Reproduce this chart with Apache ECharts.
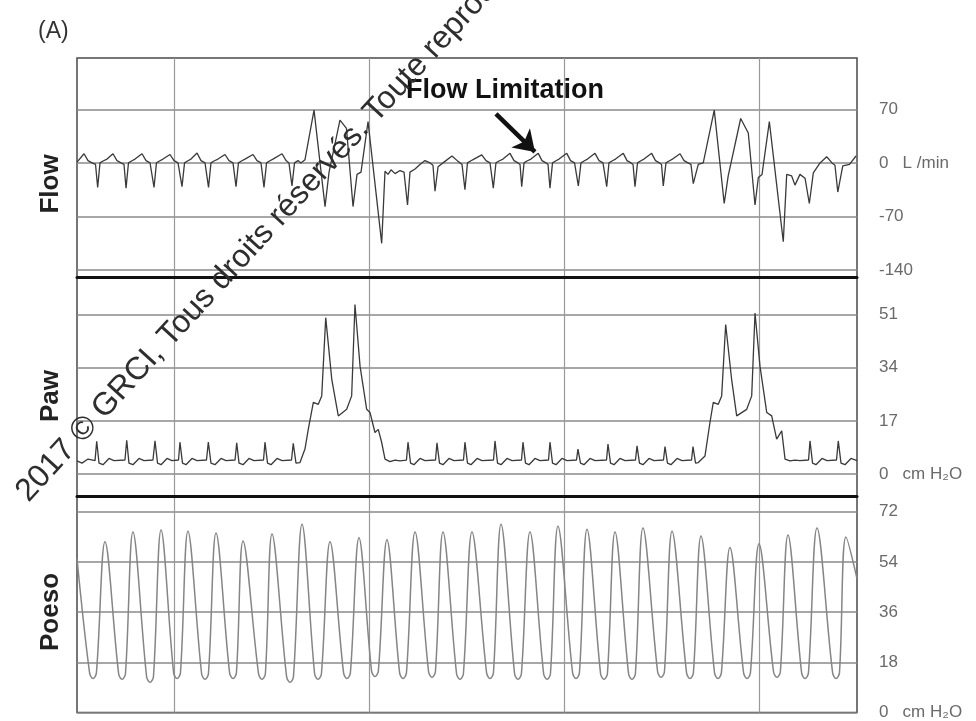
<!DOCTYPE html>
<html>
<head>
<meta charset="utf-8">
<script src="https://cdn.jsdelivr.net/npm/echarts@6/dist/echarts.min.js"></script>
<style>
html, body { margin: 0; padding: 0; background: #fff; }
#chart { width: 976px; height: 721px; }
</style>
</head>
<body>
<div id="chart"></div>
<script>
// Recording time in seconds; vertical reference lines every 20 s
const timeGridTicks = [10, 30, 50, 70];

// Tick values for each trace
const flowTicks = [-140, -70, 0, 70];
const pawTicks = [0, 17, 34, 51];
const poesoTicks = [0, 18, 36, 54, 72];

// Panel names and units
const panelNames = ['Flow', 'Paw', 'Poeso'];
const units = ['L /min', 'cm H\u2082O', 'cm H\u2082O'];

// Airflow, L/min  [time s, flow]
const flowPoints = [
  [0.00, 1], [0.72, 12], [1.13, 3], [1.54, 0], [1.90, -2], [2.12, -32], [2.36, 0], [2.67, 2.5], [3.08, 5],
  [3.69, 12], [4.10, 3], [4.51, 0], [4.82, -2], [5.03, -33], [5.28, 0], [5.59, 2.5], [5.95, 5],
  [6.67, 12], [7.08, 3], [7.49, 0], [7.69, -2], [7.90, -32], [8.15, 0], [8.46, 2.5], [8.82, 5],
  [9.54, 11], [9.95, 3], [10.36, 0], [10.56, -2], [10.77, -31], [11.03, 0], [11.33, 2.5], [11.69, 5],
  [12.31, 13], [12.72, 3], [13.13, 0], [13.28, -2], [13.49, -32], [13.74, 0], [14.05, 2.5], [14.46, 5],
  [15.18, 11], [15.59, 3], [16.00, 0], [16.15, -2], [16.31, -31], [16.56, 0], [16.87, 2.5], [17.23, 5],
  [18.05, 11], [18.46, 3], [18.87, 0], [19.03, -2], [19.18, -32], [19.44, 0], [19.74, 2.5], [20.10, 5],
  [21.03, 12], [21.44, 3], [21.74, 0], [21.90, -2], [22.05, -30], [22.31, 0], [22.67, 3], [22.97, 0],
  [23.38, 4], [24.31, 69], [25.44, -57], [25.85, -12], [26.97, 56], [27.64, 45], [28.31, -57],
  [28.72, -15], [29.13, -12], [29.85, 54], [31.25, -105], [31.59, -11], [31.90, -15], [32.21, -9],
  [32.62, -14], [33.13, -10], [33.54, -12], [33.90, -55], [34.15, -12], [34.67, -8], [35.18, -2],
  [35.69, 3], [36.21, 0], [36.51, -3], [36.72, -37], [37.03, -5], [37.74, 2], [38.46, 9], [39.08, 2],
  [39.49, -2], [39.79, -35], [40.05, 0], [40.36, 2.5], [40.72, 5],
  [41.51, 10.5], [41.95, 3], [42.36, 0], [42.51, -2], [42.70, -33], [42.97, 0], [43.28, 2.5], [43.69, 5],
  [44.41, 12.5], [44.82, 3], [45.23, 0], [45.44, -2], [45.61, -31], [45.85, 0], [46.15, 2.5], [46.56, 5],
  [47.31, 12.5], [47.69, 3], [48.10, 0], [48.31, -2], [48.51, -33], [48.77, 0], [49.08, 2.5], [49.44, 5],
  [50.23, 12.5], [50.62, 3], [51.03, 0], [51.23, -2], [51.42, -30], [51.69, 0], [52.00, 2.5], [52.36, 5],
  [53.13, 12.5], [53.54, 3], [53.95, 0], [54.15, -2], [54.33, -31], [54.56, 0], [54.87, 2.5], [55.23, 5],
  [56.03, 12.5], [56.41, 3], [56.82, 0], [57.03, -2], [57.23, -31], [57.49, 0], [57.79, 2.5], [58.15, 5],
  [58.94, 12.5], [59.33, 3], [59.74, 0], [59.95, -2], [60.13, -30], [60.41, 0], [60.72, 2.5], [61.08, 5],
  [61.85, 12], [62.26, 3], [62.67, 0], [62.97, -2], [63.21, -27], [63.72, -2], [64.23, 0],
  [65.36, 69], [66.38, -53], [66.79, -17], [68.07, 58], [68.85, 39], [69.54, -55], [69.88, -19],
  [70.26, -15], [71.01, 54], [72.44, -103], [72.79, -15], [73.30, -17], [73.64, -29], [74.15, -15],
  [74.67, -20], [75.11, -53], [75.52, -13], [76.21, 0], [76.89, 8], [77.44, 0], [77.74, -3],
  [78.03, -38], [78.54, -4], [79.23, -2], [79.90, 9]
];

// Airway pressure, cm H2O  [time s, pressure]
const pawPoints = [
  [0.00, 4.2], [0.51, 3.5], [1.13, 4.8], [1.85, 4.3],
  [2.02, 10.5], [2.26, 3.5], [2.67, 3], [3.28, 5], [3.79, 4.3], [4.92, 4.5],
  [5.10, 10.8], [5.33, 3.5], [5.74, 3], [6.36, 5], [6.87, 4.3], [7.79, 4.5],
  [8.00, 10.6], [8.26, 3.5], [8.62, 3], [9.23, 5], [9.74, 4.3], [10.41, 4.5],
  [10.56, 10.2], [10.82, 3.5], [11.18, 3], [11.79, 5], [12.31, 4.3], [13.28, 4.5],
  [13.47, 10.2], [13.74, 3.5], [14.15, 3], [14.77, 5], [15.28, 4.3], [16.21, 4.5],
  [16.38, 10], [16.62, 3.5], [17.03, 3], [17.64, 5], [18.15, 4.3], [19.13, 4.5],
  [19.28, 10.2], [19.54, 3.5], [19.90, 3], [20.51, 5], [21.03, 4.3], [22.00, 4.5],
  [22.18, 9.8], [22.46, 3.5], [22.87, 3.7], [23.38, 8], [23.72, 14.3], [24.24, 22.9],
  [24.75, 22.3], [25.10, 25], [25.51, 50], [26.13, 30.3], [26.80, 18.6], [27.66, 20.7],
  [28.17, 25], [28.51, 54.2], [29.03, 34.5], [29.71, 20.7], [30.05, 19.7], [30.56, 13.3],
  [30.90, 14.3], [31.25, 10.1], [31.59, 4.8], [32.10, 4], [32.62, 4.5], [33.13, 4.2], [33.79, 4.5],
  [33.95, 10.2], [34.21, 3.5], [34.56, 3], [35.18, 5], [35.69, 4.3], [36.77, 4.5],
  [36.92, 10], [37.18, 3.5], [37.54, 3], [38.15, 5], [38.67, 4.3], [39.64, 4.5],
  [39.79, 10.2], [40.05, 3.5], [40.41, 3], [41.03, 5], [41.54, 4.3], [42.72, 4.5],
  [42.87, 10.6], [43.13, 3.5], [43.49, 3], [44.10, 5], [44.62, 4.3], [45.59, 4.5],
  [45.74, 10.2], [46.00, 3.5], [46.36, 3], [46.97, 5], [47.49, 4.3], [48.36, 4.5],
  [48.51, 10.2], [48.77, 3.5], [49.13, 3], [49.74, 5], [50.26, 4.3], [51.23, 4.5],
  [51.38, 8], [51.64, 3.5], [52.00, 3], [52.62, 5], [53.13, 4.3], [54.31, 4.5],
  [54.46, 9.6], [54.72, 3.5], [55.08, 3], [55.69, 5], [56.21, 4.3], [57.28, 4.5],
  [57.44, 9], [57.69, 3.5], [58.05, 3], [58.67, 5], [59.18, 4.3], [60.15, 4.5],
  [60.31, 8.8], [60.56, 3.5], [60.92, 3], [61.54, 5], [62.05, 4.3], [63.03, 4.5],
  [63.18, 8.8], [63.44, 3.5], [63.72, 3.7], [64.41, 5.8], [64.92, 16.5], [65.26, 22.9],
  [65.77, 22.3], [66.12, 25], [66.53, 47.8], [67.14, 30.3], [67.66, 18.6], [68.69, 20.7],
  [69.20, 25], [69.54, 51.5], [70.05, 34.5], [70.74, 19.7], [71.25, 18.6], [71.76, 11.2],
  [72.28, 13.8], [72.62, 4.8], [73.13, 4.2], [73.64, 4.5], [74.15, 4.3], [75.03, 4.5],
  [75.18, 10.6], [75.44, 3.5], [75.79, 3], [76.41, 5], [76.92, 4.3], [77.90, 4.5],
  [78.08, 10.6], [78.36, 3.5], [78.77, 3], [79.38, 5], [80.00, 4.3]
];

// Oesophageal pressure swings, cm H2O  [time s, pressure]
// Each trough is listed with the two readings on its rounded floor.
const poesoPoints = [
  [0.00, 55.2],
  [1.29, 14.2], [1.64, 12.2], [1.99, 14.2], [2.87, 61.2],
  [4.27, 13.9], [4.62, 11.9], [4.97, 13.9], [5.74, 64.7],
  [7.14, 12.8], [7.49, 10.8], [7.84, 12.8], [8.62, 65.4],
  [9.91, 14.2], [10.26, 12.2], [10.61, 14.2], [11.38, 65.0],
  [12.78, 13.9], [13.13, 11.9], [13.48, 13.9], [14.26, 64.3],
  [15.65, 14.2], [16.00, 12.2], [16.35, 14.2], [17.03, 61.5],
  [18.62, 13.9], [18.97, 11.9], [19.32, 13.9], [20.00, 64.0],
  [21.50, 12.8], [21.85, 10.8], [22.20, 12.8], [23.08, 67.5],
  [24.37, 13.9], [24.72, 11.9], [25.07, 13.9], [25.95, 61.2],
  [27.34, 14.2], [27.69, 12.2], [28.04, 14.2], [28.92, 62.6],
  [30.21, 14.9], [30.56, 12.9], [30.91, 14.9], [31.79, 61.9],
  [33.09, 14.2], [33.44, 12.2], [33.79, 14.2], [34.67, 64.7],
  [36.06, 14.6], [36.41, 12.6], [36.76, 14.6], [37.54, 64.7],
  [38.93, 13.9], [39.28, 11.9], [39.63, 13.9], [40.51, 64.7],
  [42.01, 14.2], [42.36, 12.2], [42.71, 14.2], [43.49, 67.5],
  [44.88, 13.9], [45.23, 11.9], [45.58, 13.9], [46.46, 64.7],
  [47.86, 13.9], [48.21, 11.9], [48.56, 13.9], [49.33, 66.8],
  [50.83, 14.2], [51.18, 12.2], [51.53, 14.2], [52.31, 65.7],
  [53.70, 13.9], [54.05, 11.9], [54.40, 13.9], [55.18, 64.7],
  [56.57, 13.9], [56.92, 11.9], [57.27, 13.9], [58.05, 66.1],
  [59.55, 14.6], [59.90, 12.6], [60.25, 14.6], [61.03, 65.0],
  [62.52, 14.2], [62.87, 12.2], [63.22, 14.2], [64.00, 63.3],
  [65.39, 14.2], [65.74, 12.2], [66.09, 14.2], [66.97, 59.1],
  [68.37, 14.2], [68.72, 12.2], [69.07, 14.2], [69.95, 60.5],
  [71.44, 14.6], [71.79, 12.6], [72.14, 14.6], [72.92, 63.6],
  [74.32, 14.2], [74.67, 12.2], [75.02, 14.2], [75.90, 66.1],
  [77.50, 14.2], [77.85, 12.2], [78.20, 14.2], [78.87, 62.9],
  [80.00, 48]
];

// Annotation on the flow trace: arrow from / to [time s, flow]
const arrowFrom = [42.97, 64];
const arrowTo = [46.97, 14.4];
const noteAt = [43.9, 94];
const noteText = 'Flow Limitation';

const FONT = '"Liberation Sans", Arial, Helvetica, sans-serif';
const GRID_LINE = { color: '#8a8a8a', width: 1.5 };

const chart = echarts.init(document.getElementById('chart'), null, { renderer: 'canvas' });

function panelGrid(top, height) {
  return { left: 77, width: 780, top: top, height: height, show: true,
           borderColor: '#4a4a4a', borderWidth: 1.5, backgroundColor: 'transparent' };
}

function timeAxis(i, heavyBase) {
  return {
    type: 'value', gridIndex: i, min: 0, max: 80,
    axisLine: { show: heavyBase, onZero: false, lineStyle: { color: '#111', width: 3 } },
    axisTick: { show: false, customValues: timeGridTicks },
    axisLabel: { show: false, customValues: timeGridTicks },
    splitLine: { show: true, lineStyle: { color: '#999', width: 1.2 } }
  };
}

function levelAxis(i, min, max, ticks, unit) {
  return {
    type: 'value', gridIndex: i, position: 'right', min: min, max: max,
    axisLine: { show: false },
    axisTick: { show: false, customValues: ticks },
    axisLabel: {
      customValues: ticks, margin: 22, color: '#6a6a6a', fontSize: 17, fontFamily: FONT,
      formatter: function (v) { return v === 0 ? '0   ' + unit : String(v); }
    },
    splitLine: { show: true, lineStyle: GRID_LINE }
  };
}

function panelTitle(text, cy) {
  return {
    type: 'text', x: 51, y: cy, rotation: Math.PI / 2, z: 10,
    style: { text: text, font: 'bold 26px ' + FONT, fill: '#222', align: 'center', verticalAlign: 'middle' }
  };
}

const option = {
  animation: false,
  backgroundColor: '#fff',
  grid: [panelGrid(58, 219), panelGrid(277, 219), panelGrid(496, 222)],
  xAxis: [timeAxis(0, true), timeAxis(1, true), timeAxis(2, false)],
  yAxis: [
    levelAxis(0, -149, 137, flowTicks, units[0]),
    levelAxis(1, -7, 63, pawTicks, units[1]),
    levelAxis(2, 0, 77.6, poesoTicks, units[2])
  ],
  series: [
    {
      name: panelNames[0], type: 'line', xAxisIndex: 0, yAxisIndex: 0, data: flowPoints,
      showSymbol: false, lineStyle: { color: '#3a3a3a', width: 1.3 },
      markLine: {
        silent: true, symbol: ['none', 'arrow'], symbolSize: 20,
        lineStyle: { color: '#111', width: 4.5, type: 'solid' }, label: { show: false },
        data: [[{ coord: arrowFrom }, { coord: arrowTo }]]
      },
      markPoint: {
        silent: true, symbol: 'circle', symbolSize: 0,
        label: { show: true, position: 'inside', formatter: noteText,
                 fontFamily: FONT, fontWeight: 'bold', fontSize: 27, color: '#111' },
        data: [{ coord: noteAt }]
      }
    },
    {
      name: panelNames[1], type: 'line', xAxisIndex: 1, yAxisIndex: 1, data: pawPoints,
      showSymbol: false, lineStyle: { color: '#3a3a3a', width: 1.3 }
    },
    {
      name: panelNames[2], type: 'line', xAxisIndex: 2, yAxisIndex: 2, data: poesoPoints,
      showSymbol: false, smooth: 0.35, lineStyle: { color: '#858585', width: 1.5 }
    }
  ],
  graphic: [
    { type: 'text', x: 38, y: 20, style: { text: '(A)', font: '23px ' + FONT, fill: '#333' } },
    panelTitle(panelNames[0], 184),
    panelTitle(panelNames[1], 396),
    panelTitle(panelNames[2], 612),
    {
      type: 'text', x: 22, y: 497, rotation: 47.5 * Math.PI / 180, z: 100,
      style: { text: '2017 \u00a9 GRCI, Tous droits r\u00e9serv\u00e9s. Toute reproduction',
               font: '32px ' + FONT, fill: '#2e2e2e', align: 'left', verticalAlign: 'middle' }
    }
  ]
};

chart.setOption(option);
</script>
</body>
</html>
